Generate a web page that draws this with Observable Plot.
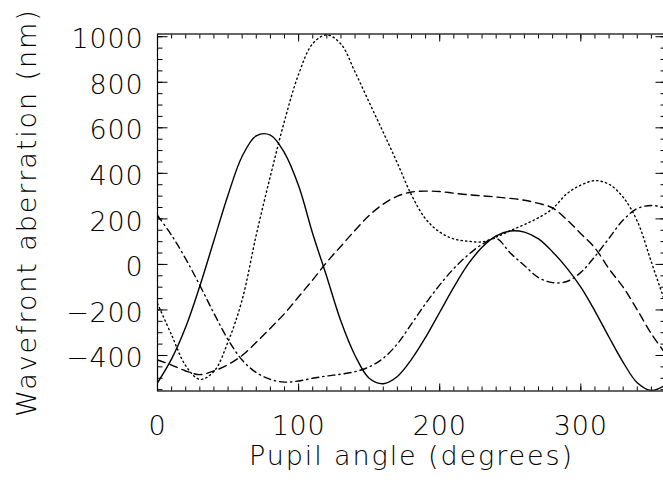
<!DOCTYPE html>
<html><head><meta charset="utf-8">
<script src="https://cdn.jsdelivr.net/npm/d3@7"></script>
<script src="https://cdn.jsdelivr.net/npm/@observablehq/plot@0.6"></script>
<style>html,body{margin:0;padding:0;background:#fff;} svg{display:block}</style>
</head><body><div id="chart"></div>
<script>
// Pupil angle (degrees)
const angle = [0,10,20,30,40,50,60,70,80,90,100,110,120,130,140,150,160,170,180,190,200,210,220,230,240,250,260,270,280,290,300,310,320,330,340,350,360];
// Wavefront aberration (nm), four curves
const solid   = [-520,-415,-275,-95,105,305,475,565,568,490,345,135,-55,-250,-400,-500,-524,-492,-417,-320,-210,-100,0,75,125,147,142,112,55,-15,-100,-205,-320,-430,-520,-554,-530];
const dotted  = [-172,-310,-445,-505,-470,-340,-155,130,388,630,835,970,1008,968,845,712,580,445,305,200,142,112,102,99,120,148,175,205,245,310,348,368,352,295,190,10,-172];
const dashed  = [-420,-442,-468,-484,-468,-440,-400,-342,-280,-216,-142,-68,10,80,150,215,265,300,318,322,320,313,306,301,296,290,282,268,248,197,135,72,-20,-100,-200,-305,-392];
const dashDot = [215,128,24,-92,-215,-330,-420,-475,-505,-517,-512,-500,-490,-482,-471,-450,-412,-349,-261,-172,-90,-18,41,88,114,50,-5,-58,-80,-75,-35,35,115,195,245,259,248];

const xMajor = [0,100,200,300];
const xMinor = d3.range(0, 361, 10);
const yMajor = [-400,-200,0,200,400,600,800,1000];
const yMinor = d3.range(-550, 1001, 50);

const series = [
  {values: solid,   dash: null},
  {values: dotted,  dash: "1.3,3.2"},
  {values: dashed,  dash: "8,5"},
  {values: dashDot, dash: "7,4,1.3,4"}
];

const font = "DejaVu Sans";
const fmt = d => d < 0 ? "\u2212" + Math.abs(d) : String(d);
const blank = () => "";

const plot = Plot.plot({
  width: 663,
  height: 483,
  marginLeft: 157,
  marginRight: -2,
  marginTop: 33.5,
  marginBottom: 92.5,
  x: {domain: [0, 360]},
  y: {domain: [-556, 1012]},
  style: {fontFamily: font, fontWeight: 200, background: "#fff", color: "#000"},
  marks: [
    Plot.frame({stroke: "#000", strokeWidth: 1.2}),
    // minor ticks
    Plot.axisX(xMinor, {anchor: "bottom", tickSize: -4, tickFormat: blank, label: null, stroke: "#000"}),
    Plot.axisX(xMinor, {anchor: "top", tickSize: -4, tickFormat: blank, label: null, stroke: "#000"}),
    Plot.axisY(yMinor, {anchor: "left", tickSize: -5.5, tickFormat: blank, label: null, stroke: "#000"}),
    Plot.axisY(yMinor, {anchor: "right", tickSize: -5.5, tickFormat: blank, label: null, stroke: "#000"}),
    // major ticks
    Plot.axisX(xMajor, {anchor: "bottom", tickSize: -7, tickFormat: blank, label: null, stroke: "#000"}),
    Plot.axisX(xMajor, {anchor: "top", tickSize: -7, tickFormat: blank, label: null, stroke: "#000"}),
    Plot.axisY(yMajor, {anchor: "left", tickSize: -10.5, tickFormat: blank, label: null, stroke: "#000"}),
    Plot.axisY(yMajor, {anchor: "right", tickSize: -10.5, tickFormat: blank, label: null, stroke: "#000"}),
    // tick labels
    Plot.axisX(xMajor, {anchor: "bottom", tickSize: 0, tickPadding: 25, tickFormat: fmt, fontSize: 27, fill: "#000", label: null}),
    Plot.axisY(yMajor, {anchor: "left", tickSize: 0, tickPadding: 14, dy: 3, tickFormat: fmt, fontSize: 27, fill: "#000", label: null}),
    // axis titles
    Plot.text(["Pupil angle (degrees)"], {frameAnchor: "bottom", dy: 74, fontSize: 27, fill: "#000", text: d => d}),
    Plot.text(["Wavefront aberration (nm)"], {frameAnchor: "left", textAnchor: "middle", dx: -130, rotate: -90, fontSize: 27, fill: "#000", text: d => d}),
    // curves
    ...series.map(s => Plot.line(angle.map((a, i) => ({a, v: s.values[i]})), {
      x: "a", y: "v", stroke: "#000", strokeWidth: 1.4,
      strokeDasharray: s.dash, curve: "catmull-rom", clip: true
    }))
  ]
});
plot.querySelectorAll("text").forEach(t => {
  const s = t.textContent;
  if (s.startsWith("Wavefront") || s.startsWith("Pupil")) t.style.letterSpacing = "1.9px";
  else if (/\d/.test(s)) t.style.letterSpacing = "0.8px";
});
document.getElementById("chart").append(plot);
</script>
</body></html>
